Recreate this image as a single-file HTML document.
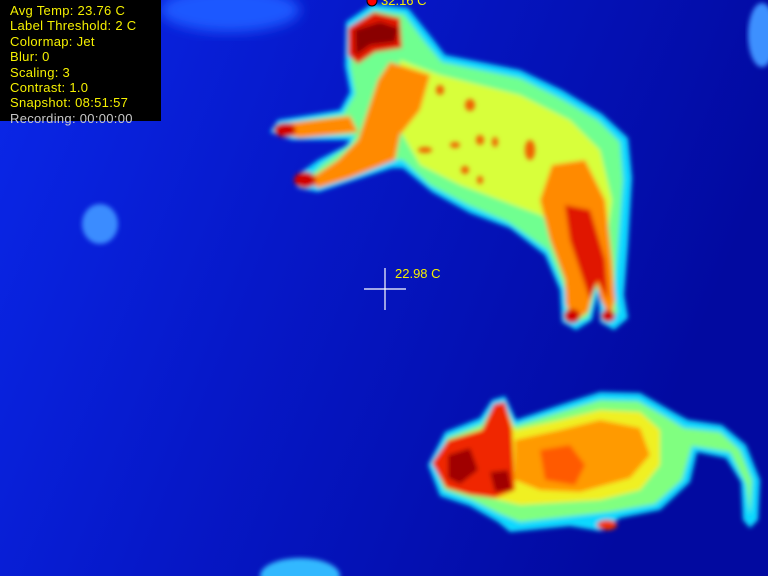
<!DOCTYPE html>
<html><head><meta charset="utf-8"><style>
html,body{margin:0;padding:0;background:#0714c0;width:768px;height:576px;overflow:hidden}
svg{display:block}
#hud{position:absolute;left:0;top:0;width:161px;height:121px;background:#000;font-family:"Liberation Sans",sans-serif;font-size:13px;line-height:15.4px;color:#f5f000;padding:3px 0 0 10px;box-sizing:border-box;letter-spacing:0.3px}
#hud .rec{color:#c8c8c8}
.lbl{position:absolute;font-family:"Liberation Sans",sans-serif;font-size:13px;color:#f5f000}
</style></head><body>
<svg width="768" height="576">
<defs>
<filter id="b" x="-10%" y="-10%" width="120%" height="120%"><feGaussianBlur stdDeviation="2.5"/></filter>
<filter id="b2" x="-20%" y="-20%" width="140%" height="140%"><feGaussianBlur stdDeviation="6"/></filter>
<linearGradient id="bg" x1="0" y1="0" x2="1" y2="0.3"><stop offset="0" stop-color="#0a28ea"/><stop offset="0.45" stop-color="#0618c8"/><stop offset="1" stop-color="#020aa0"/></linearGradient>
</defs>
<rect width="768" height="576" fill="url(#bg)"/>
<ellipse cx="100" cy="224" rx="18" ry="20" fill="#3a8cff" filter="url(#b)"/>
<ellipse cx="300" cy="576" rx="40" ry="18" fill="#30b8ff" filter="url(#b)"/>
<ellipse cx="230" cy="10" rx="70" ry="22" fill="#1e58ff" filter="url(#b2)"/>
<ellipse cx="762" cy="35" rx="14" ry="32" fill="#3c90ff" filter="url(#b)"/>
<g filter="url(#b)">
<path fill="#10d8ff" d="M346,22 L372,4 L408,8 L432,38 L445,55 L520,70 L562,90 L602,114 L628,138 L632,178 L628,245 L624,295 L628,318 L614,330 L600,322 L598,292 L592,320 L576,330 L562,322 L560,290 L545,255 L510,228 L470,213 L432,192 L403,168 L392,168 L318,192 L298,188 L296,176 L318,160 L345,146 L350,140 L292,140 L270,132 L278,120 L340,110 L350,92 L345,66 Z"/>
<path fill="#70ff90" d="M352,26 L374,10 L404,14 L425,42 L442,62 L520,78 L560,98 L598,120 L620,142 L623,180 L618,245 L614,292 L618,312 L608,320 L602,295 L596,288 L588,318 L576,322 L567,315 L565,290 L548,250 L508,222 L468,205 L430,185 L403,160 L390,160 L320,186 L304,182 L322,164 L350,145 L355,135 L295,136 L278,130 L284,124 L343,114 L355,94 L350,66 Z"/>
<path fill="#d8ff3a" d="M400,60 L440,75 L520,95 L570,120 L600,150 L612,200 L605,250 L570,230 L540,215 L500,200 L460,185 L420,165 L400,130 Z"/>
<path fill="#ff8a00" d="M390,62 L408,68 L430,75 L420,110 L400,135 L395,160 L350,178 L318,188 L308,180 L338,160 L358,140 L368,110 L378,80 Z"/>
<path fill="#ff8a00" d="M280,124 L350,116 L358,132 L300,138 L280,134 Z"/>
<path fill="#ff8a00" d="M552,165 L585,160 L605,200 L612,260 L615,300 L610,318 L600,298 L596,280 L588,312 L576,320 L566,305 L565,280 L550,240 L540,200 Z"/>
<path fill="#e01800" d="M348,28 L374,12 L400,18 L402,48 L375,52 L358,64 L348,55 Z"/>
<path fill="#8a0000" d="M355,30 L380,22 L398,28 L395,42 L370,45 L356,55 Z"/>
<path fill="#e01800" d="M565,205 L590,210 L605,260 L608,300 L598,280 L590,300 L580,270 L570,240 Z"/>
<ellipse cx="285" cy="130" rx="11" ry="7" fill="#d00000"/>
<ellipse cx="305" cy="180" rx="11" ry="8" fill="#d00000"/>
<ellipse cx="572" cy="316" rx="8" ry="7" fill="#d00000"/>
<ellipse cx="608" cy="316" rx="7" ry="6" fill="#d00000"/>
</g>
<g fill="#f06000" filter="url(#b)">
<ellipse cx="425" cy="150" rx="7" ry="3"/><ellipse cx="455" cy="145" rx="5" ry="3"/><ellipse cx="480" cy="140" rx="4" ry="5"/><ellipse cx="495" cy="142" rx="3" ry="5"/><ellipse cx="530" cy="150" rx="5" ry="10"/><ellipse cx="465" cy="170" rx="4" ry="4"/><ellipse cx="480" cy="180" rx="3" ry="4"/><ellipse cx="470" cy="105" rx="5" ry="6"/><ellipse cx="440" cy="90" rx="4" ry="5"/>
</g>
<g filter="url(#b)">
<path fill="#10d8ff" d="M428,465 L445,432 L480,418 L492,400 L505,396 L516,420 L560,405 L600,392 L640,393 L675,413 L688,420 L722,425 L746,445 L760,480 L758,520 L750,528 L743,520 L741,482 L726,458 L697,452 L690,482 L660,510 L620,518 L600,531 L570,526 L510,532 L498,522 L470,506 L440,496 Z"/>
<path fill="#80ff80" d="M434,464 L448,437 L482,424 L494,406 L504,402 L514,426 L560,412 L600,400 L638,401 L668,418 L684,428 L720,432 L740,450 L752,480 L750,515 L746,484 L730,452 L692,446 L682,480 L655,504 L610,512 L520,522 L500,514 L472,500 L444,490 Z"/>
<path fill="#f0f020" d="M436,464 L450,440 L484,428 L495,410 L506,408 L515,430 L560,420 L600,410 L640,412 L660,430 L660,465 L640,490 L600,500 L520,505 L478,495 L448,486 Z"/>
<path fill="#ff9a00" d="M515,440 L560,430 L600,420 L640,428 L650,455 L630,478 L580,492 L540,490 L515,480 Z"/>
<path fill="#ff5a00" d="M540,450 L570,445 L585,465 L575,485 L545,480 Z"/>
<path fill="#f02800" d="M432,463 L448,440 L482,430 L494,404 L505,402 L512,428 L515,490 L495,498 L470,495 L446,488 Z"/>
<path fill="#a00000" d="M448,455 L470,448 L478,470 L460,484 L448,478 Z"/>
<path fill="#a00000" d="M490,472 L508,470 L512,490 L495,492 Z"/>
<ellipse cx="607" cy="525" rx="10" ry="5" fill="#f03000"/>
</g>
<g stroke="#fff" stroke-width="1.2">
<line x1="364" y1="289" x2="406" y2="289"/><line x1="385" y1="268" x2="385" y2="310"/>
</g>
<circle cx="372" cy="1" r="5" fill="#ff0000" stroke="#000" stroke-width="1"/>
</svg>
<div class="lbl" style="left:381px;top:-7px">32.16 C</div>
<div class="lbl" style="left:395px;top:266px">22.98 C</div>
<div id="hud">
<div>Avg Temp: 23.76 C</div>
<div>Label Threshold: 2 C</div>
<div>Colormap: Jet</div>
<div>Blur: 0</div>
<div>Scaling: 3</div>
<div>Contrast: 1.0</div>
<div>Snapshot: 08:51:57</div>
<div class="rec">Recording: 00:00:00</div>
</div>
</body></html>
